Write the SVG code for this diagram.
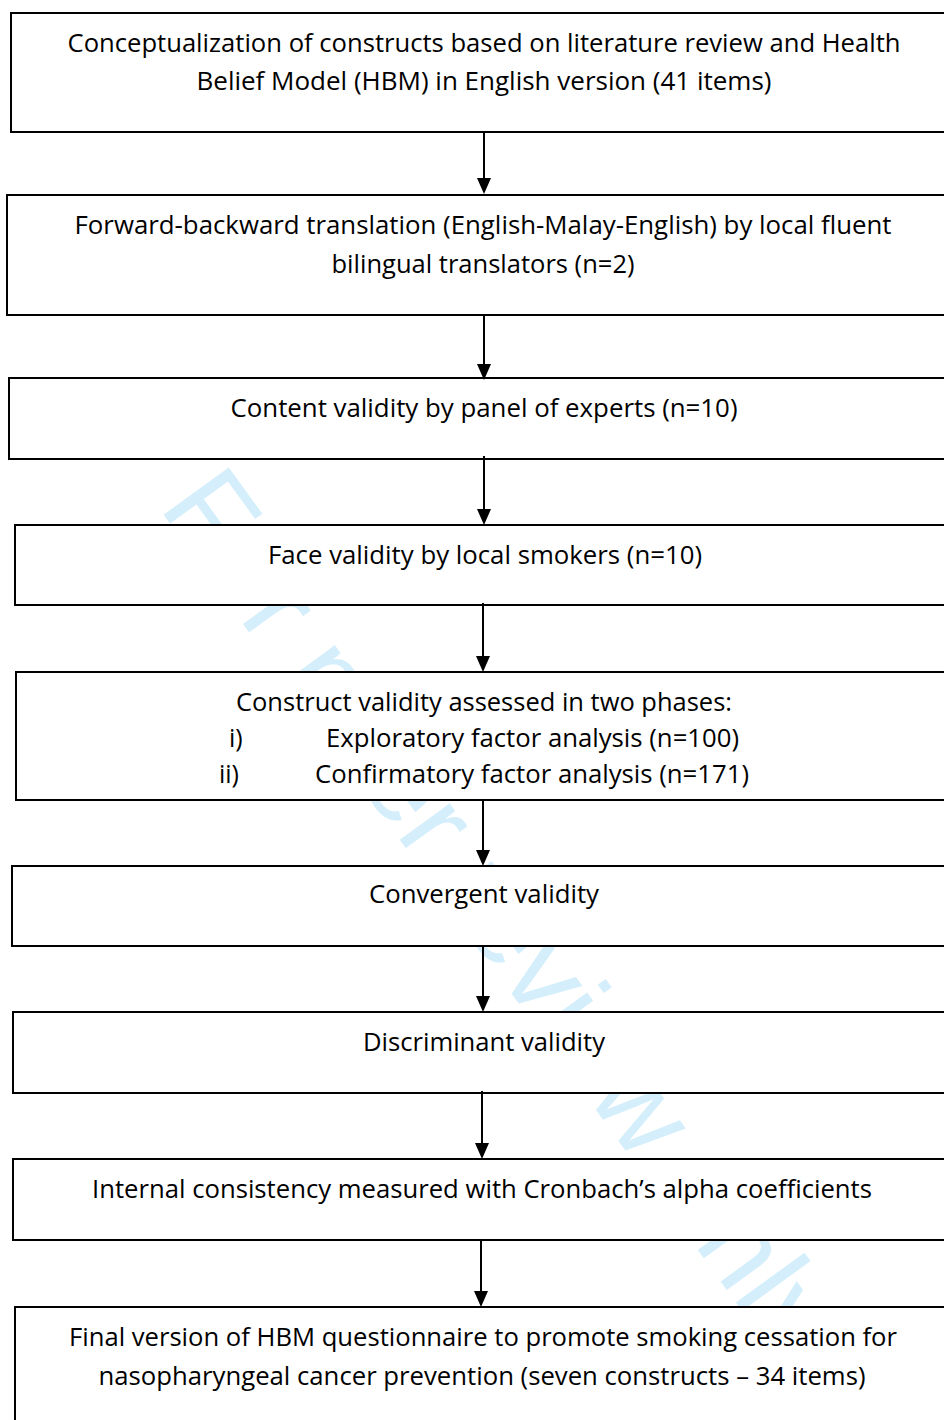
<svg xmlns="http://www.w3.org/2000/svg" width="944" height="1420" viewBox="0 0 944 1420">
<style>
.box{fill:#ffffff;stroke:#000000;stroke-width:2}
.t{font-family:"Open Sans","Liberation Sans",sans-serif;font-size:25px;fill:#000000;text-anchor:middle}
.n{font-family:"Open Sans","Liberation Sans",sans-serif;font-size:25px;fill:#000000}
.wm{font-family:"Liberation Sans",Arial,sans-serif;font-size:117px;fill:#d4effb}
.ln{stroke:#000000;stroke-width:2;fill:none}
.ah{fill:#000000}
</style>
<g id="watermark">
<text class="wm" transform="translate(158,507) rotate(54)">For peer review only</text>
</g>
<g id="n1"><rect class="box" x="11" y="13" width="960" height="119"/>
<text class="t" x="484" y="52" textLength="833" lengthAdjust="spacingAndGlyphs">Conceptualization of constructs based on literature review and Health</text>
<text class="t" x="484" y="90" textLength="575" lengthAdjust="spacingAndGlyphs">Belief Model (HBM) in English version (41 items)</text></g>
<g id="n2"><rect class="box" x="7" y="195" width="960" height="120"/>
<text class="t" x="483" y="234" textLength="817" lengthAdjust="spacingAndGlyphs">Forward-backward translation (English-Malay-English) by local fluent</text>
<text class="t" x="483" y="273" textLength="303" lengthAdjust="spacingAndGlyphs">bilingual translators (n=2)</text></g>
<g id="n3"><rect class="box" x="9" y="378" width="960" height="81"/>
<text class="t" x="484" y="417" textLength="507" lengthAdjust="spacingAndGlyphs">Content validity by panel of experts (n=10)</text></g>
<g id="n4"><rect class="box" x="15" y="525" width="960" height="80"/>
<text class="t" x="485" y="564" textLength="434" lengthAdjust="spacingAndGlyphs">Face validity by local smokers (n=10)</text></g>
<g id="n5"><rect class="box" x="16" y="672" width="960" height="128"/>
<text class="t" x="484" y="711" textLength="496" lengthAdjust="spacingAndGlyphs">Construct validity assessed in two phases:</text>
<text class="n" x="229" y="747">i)</text>
<text class="n" x="326" y="747" textLength="413" lengthAdjust="spacingAndGlyphs">Exploratory factor analysis (n=100)</text>
<text class="n" x="219" y="783">ii)</text>
<text class="n" x="315" y="783" textLength="434" lengthAdjust="spacingAndGlyphs">Confirmatory factor analysis (n=171)</text></g>
<g id="n6"><rect class="box" x="12" y="866" width="960" height="80"/>
<text class="t" x="484" y="903" textLength="230" lengthAdjust="spacingAndGlyphs">Convergent validity</text></g>
<g id="n7"><rect class="box" x="13" y="1012" width="960" height="81"/>
<text class="t" x="484" y="1051" textLength="242" lengthAdjust="spacingAndGlyphs">Discriminant validity</text></g>
<g id="n8"><rect class="box" x="13" y="1159" width="960" height="81"/>
<text class="t" x="482" y="1198" textLength="780" lengthAdjust="spacingAndGlyphs">Internal consistency measured with Cronbach’s alpha coefficients</text></g>
<g id="n9"><rect class="box" x="15" y="1307" width="960" height="140"/>
<text class="t" x="483" y="1346" textLength="828" lengthAdjust="spacingAndGlyphs">Final version of HBM questionnaire to promote smoking cessation for</text>
<text class="t" x="482" y="1385" textLength="767" lengthAdjust="spacingAndGlyphs">nasopharyngeal cancer prevention (seven constructs – 34 items)</text></g>
<g id="connectors">
<line class="ln" x1="484" y1="132" x2="484" y2="180"/><polygon class="ah" points="477,178 491,178 484,194"/>
<line class="ln" x1="484" y1="315" x2="484" y2="366"/><polygon class="ah" points="477,364 491,364 484,380"/>
<line class="ln" x1="484" y1="456" x2="484" y2="511"/><polygon class="ah" points="477,509 491,509 484,525"/>
<line class="ln" x1="483" y1="603" x2="483" y2="658"/><polygon class="ah" points="476,656 490,656 483,672"/>
<line class="ln" x1="483" y1="799" x2="483" y2="852"/><polygon class="ah" points="476,850 490,850 483,866"/>
<line class="ln" x1="483" y1="946" x2="483" y2="998"/><polygon class="ah" points="476,996 490,996 483,1012"/>
<line class="ln" x1="482" y1="1091" x2="482" y2="1145"/><polygon class="ah" points="475,1143 489,1143 482,1159"/>
<line class="ln" x1="481" y1="1240" x2="481" y2="1293"/><polygon class="ah" points="474,1291 488,1291 481,1307"/>
</g>
</svg>
